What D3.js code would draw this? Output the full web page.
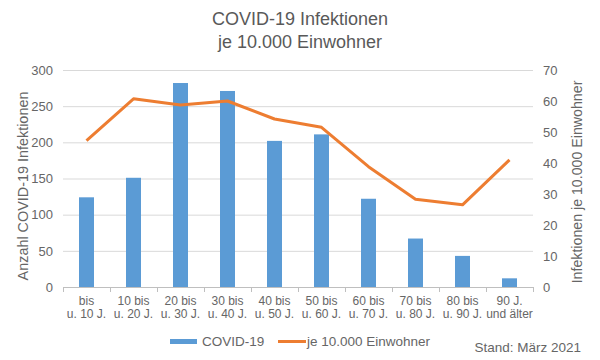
<!DOCTYPE html>
<html>
<head>
<meta charset="utf-8">
<script src="https://cdn.jsdelivr.net/npm/d3@7"></script>
<style>
  body { margin: 0; background: #fff; }
  text { font-family: "Liberation Sans", Arial, sans-serif; fill: #666666; }
</style>
</head>
<body>
<svg id="chart" width="600" height="360"></svg>
<script>
// age groups (two label lines each)
const categories = ["g1", "g2", "g3", "g4", "g5", "g6", "g7", "g8", "g9", "g10"];
const label_top = ["bis", "10 bis", "20 bis", "30 bis", "40 bis", "50 bis", "60 bis", "70 bis", "80 bis", "90 J."];
const label_bottom = ["u. 10 J.", "u. 20 J.", "u. 30 J.", "u. 40 J.", "u. 50 J.", "u. 60 J.", "u. 70 J.", "u. 80 J.", "u. 90 J.", "und älter"];

const infections = [124, 151, 282, 271, 202, 211, 122, 67, 43, 12];
const per_10000 = [47.2, 60.7, 58.7, 60, 54.2, 51.5, 38.8, 28.3, 26.5, 41];

const left_ticks = [0, 50, 100, 150, 200, 250, 300];
const right_ticks = [0, 10, 20, 30, 40, 50, 60, 70];

const svg = d3.select("#chart");
const plot_left = 63, plot_right = 533, plot_top = 70, plot_bottom = 287;

const x = d3.scaleBand().domain(categories).range([plot_left, plot_right]);
const y = d3.scaleLinear().domain([0, 300]).range([plot_bottom, plot_top]);
const y2 = d3.scaleLinear().domain([0, 70]).range([plot_bottom, plot_top]);

// title
svg.append("text").attr("x", 300).attr("y", 25).attr("text-anchor", "middle")
  .style("font-size", "18px").style("fill", "#595959").text("COVID-19 Infektionen");
svg.append("text").attr("x", 300).attr("y", 48).attr("text-anchor", "middle")
  .style("font-size", "18px").style("fill", "#595959").text("je 10.000 Einwohner");

// gridlines
svg.append("g")
  .selectAll("line")
  .data(left_ticks.slice(1))
  .join("line")
  .attr("x1", plot_left).attr("x2", plot_right)
  .attr("y1", d => y(d) + 0.5).attr("y2", d => y(d) + 0.5)
  .attr("stroke", "#d9d9d9").attr("stroke-width", 1);

// left axis labels
svg.append("g")
  .attr("transform", `translate(${plot_left},0)`)
  .call(d3.axisLeft(y).tickValues(left_ticks).tickSize(0).tickPadding(10))
  .call(g => g.select(".domain").remove())
  .call(g => g.selectAll("text").style("font-size", "13px").attr("fill", "#666666"));

// right axis labels
svg.append("g")
  .attr("transform", `translate(${plot_right},0)`)
  .call(d3.axisRight(y2).tickValues(right_ticks).tickSize(0).tickPadding(10))
  .call(g => g.select(".domain").remove())
  .call(g => g.selectAll("text").style("font-size", "13px").attr("fill", "#666666"));

// bars
svg.append("g")
  .selectAll("rect")
  .data(infections)
  .join("rect")
  .attr("x", (d, i) => x(categories[i]) + x.bandwidth() / 2 - 7.5)
  .attr("width", 15)
  .attr("y", d => y(d))
  .attr("height", d => y(0) - y(d))
  .attr("fill", "#5b9bd5");

// x baseline + ticks
const xaxis = svg.append("g");
xaxis.append("line")
  .attr("x1", plot_left).attr("x2", plot_right)
  .attr("y1", plot_bottom + 0.5).attr("y2", plot_bottom + 0.5)
  .attr("stroke", "#bfbfbf");
xaxis.selectAll("line.tick")
  .data(categories.concat(["end"]))
  .join("line")
  .attr("class", "tick")
  .attr("x1", (d, i) => plot_left + i * x.bandwidth() + 0.5)
  .attr("x2", (d, i) => plot_left + i * x.bandwidth() + 0.5)
  .attr("y1", plot_bottom).attr("y2", plot_bottom + 5)
  .attr("stroke", "#bfbfbf");

// x labels
const xl = svg.append("g");
xl.selectAll("text.top")
  .data(label_top)
  .join("text")
  .attr("class", "top")
  .attr("x", (d, i) => x(categories[i]) + x.bandwidth() / 2)
  .attr("y", 305)
  .attr("text-anchor", "middle")
  .style("font-size", "12px")
  .text(d => d);
xl.selectAll("text.bot")
  .data(label_bottom)
  .join("text")
  .attr("class", "bot")
  .attr("x", (d, i) => x(categories[i]) + x.bandwidth() / 2)
  .attr("y", 318)
  .attr("text-anchor", "middle")
  .style("font-size", "12px")
  .text(d => d);

// line
const line = d3.line()
  .x((d, i) => x(categories[i]) + x.bandwidth() / 2)
  .y(d => y2(d));
svg.append("path")
  .datum(per_10000)
  .attr("d", line)
  .attr("fill", "none")
  .attr("stroke", "#ed7d31")
  .attr("stroke-width", 3)
  .attr("stroke-linejoin", "round");

// axis titles
svg.append("text")
  .attr("transform", `translate(28,186) rotate(-90)`)
  .attr("text-anchor", "middle")
  .style("font-size", "14.4px")
  .text("Anzahl COVID-19 Infektionen");
svg.append("text")
  .attr("transform", `translate(582,182) rotate(-90)`)
  .attr("text-anchor", "middle")
  .style("font-size", "14.2px")
  .text("Infektionen je 10.000 Einwohner");

// legend
const lg = svg.append("g");
lg.append("rect").attr("x", 170).attr("y", 339).attr("width", 27).attr("height", 5).attr("fill", "#5b9bd5");
lg.append("text").attr("x", 202).attr("y", 346).style("font-size", "13.5px").text("COVID-19");
lg.append("line").attr("x1", 278).attr("x2", 306).attr("y1", 341.5).attr("y2", 341.5)
  .attr("stroke", "#ed7d31").attr("stroke-width", 3);
lg.append("text").attr("x", 307).attr("y", 346).style("font-size", "13.5px").text("je 10.000 Einwohner");

svg.append("text").attr("x", 581).attr("y", 352).attr("text-anchor", "end")
  .style("font-size", "13.5px").text("Stand: März 2021");
</script>
</body>
</html>
